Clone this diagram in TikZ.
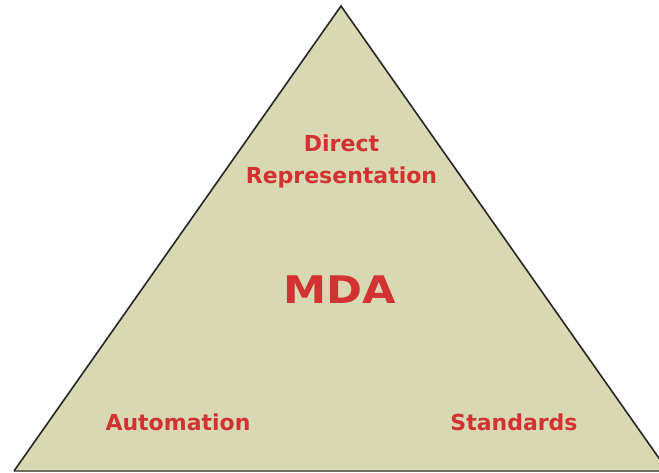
\documentclass[tikz,border=0pt]{standalone}
\usepackage{fontspec}
\newfontfamily\labelfont{DejaVu Sans}
\definecolor{khaki}{RGB}{216,216,178}
\definecolor{labelred}{RGB}{211,50,50}
\definecolor{edgegray}{RGB}{110,110,100}
\tikzset{
  lbl/.style={text=labelred, font=\labelfont\bfseries\fontsize{22}{26}\selectfont, anchor=base, inner sep=0pt},
  big/.style={text=labelred, font=\labelfont\bfseries\fontsize{38}{44}\selectfont, anchor=base, inner sep=0pt, xscale=1.14},
  side/.style={draw=black!85, line width=1.6pt, line join=miter},
  basel/.style={draw=edgegray, line width=2.2pt}
}
\begin{document}
\begin{tikzpicture}[x=1pt,y=-1pt]
\useasboundingbox (0,0) rectangle (659,473);
\fill[white] (0,0) rectangle (659,473);
\begin{scope}
\clip (0,0) rectangle (659,473);
\coordinate (apex) at (341,6);
\coordinate (bl) at (14,471);
\coordinate (br) at (668,471);
\fill[khaki] (apex) -- (bl) -- (br) -- cycle;
\draw[basel] (bl) -- (br);
\draw[side] (bl) -- (apex) -- (br);
\end{scope}
\node[lbl] (direct) at (341.5,152) {Direct};
\node[lbl] (repr) at (341.5,184) {Representation};
\node[big] (mda) at (340,304) {MDA};
\node[lbl] (auto) at (178,430) {Automation};
\node[lbl] (std) at (514,430) {Standards};
\end{tikzpicture}
\end{document}
